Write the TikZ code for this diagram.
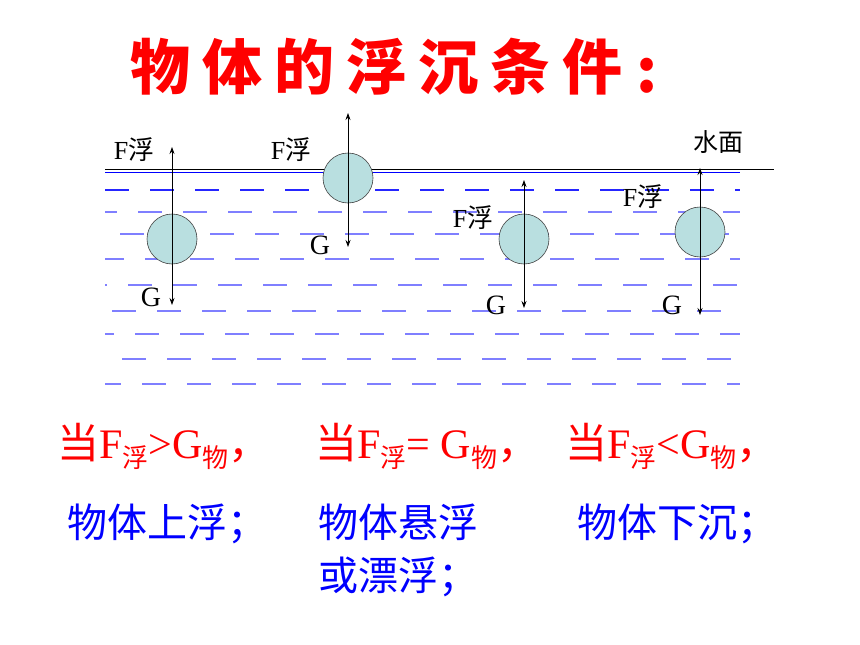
\documentclass[tikz,border=0pt]{standalone}
\usepackage{fontspec}
\setmainfont{Liberation Serif}
\newfontfamily\cjk{Noto Sans CJK SC}
\usetikzlibrary{arrows.meta}
\definecolor{ballcyan}{HTML}{B9DFE0}
\definecolor{wave}{HTML}{7F7FFF}
\definecolor{textblue}{HTML}{0000FF}
\newcommand{\subcjk}[1]{\raisebox{-9pt}{\fontsize{26}{26}\selectfont\cjk #1}}

\begin{document}
\begin{tikzpicture}[x=1pt,y=-1pt,
    ball/.style={circle,draw=black!75,line width=0.6pt,fill=ballcyan,minimum size=50pt,inner sep=0pt},
    force/.style={-{Stealth[length=7pt,width=5pt]},line width=0.8pt},
    lbl/.style={inner sep=0pt,font=\fontsize{26}{28}\selectfont},
    cond/.style={anchor=base west,inner sep=0pt,text=red,font=\fontsize{42}{44}\selectfont},
    result/.style={anchor=base west,inner sep=0pt,text=textblue,font=\fontsize{40}{44}\selectfont\cjk}]
    \useasboundingbox (0,0) rectangle (860,645);

    % title
    \foreach \ch [count=\i] in {物,体,的,浮,沉,条,件}
        \node[text=red,font=\fontsize{60}{62}\selectfont\cjk\bfseries] (title\i) at (160+72*\i-72,67) {\ch};
    \node[text=red,font=\fontsize{60}{62}\selectfont\cjk\bfseries] (colon) at (647,76) {:};

    % water
    \foreach \y/\col/\ph in {190/blue!85/0, 212/wave/12, 234/wave/30, 259/wave/5, 285/wave/22,
        311/wave/38, 334/wave/15, 359/wave/28, 384/wave/8}
        \draw[draw=\col,line width=1.6pt,dash pattern=on 24pt off 21pt,dash phase=\ph] (105,\y) -- (740,\y);
    \draw[line width=0.7pt] (105,169.5) -- (774,169.5);
    \draw[blue,line width=1.8pt] (105,172.5) -- (740,172.5);
    \node[lbl,font=\fontsize{25}{27}\selectfont\cjk] (surface) at (718,142) {水面};

    % balls
    \node[ball] (rising) at (172,239) {};
    \node[ball] (floating) at (348,178) {};
    \node[ball] (suspended) at (524,239) {};
    \node[ball] (sinking) at (700,232) {};

    \coordinate (risingF) at (172,147);
    \coordinate (risingG) at (172,305);
    \coordinate (floatingF) at (348,113);
    \coordinate (floatingG) at (348,247);
    \coordinate (suspendedF) at (524,180);
    \coordinate (suspendedG) at (524,308);
    \coordinate (sinkingF) at (700,168);
    \coordinate (sinkingG) at (700,315);

    \foreach \b in {rising,floating,suspended,sinking} {
        \draw[force] (\b.center) -- (\b F);
        \draw[force] (\b.center) -- (\b G);
    }

    \node[lbl] (risingFlbl) at (134,150) {F{\cjk 浮}};
    \node[lbl,font=\fontsize{28}{30}\selectfont] (risingGlbl) at (151,297) {G};
    \node[lbl] (floatingFlbl) at (291,150) {F{\cjk 浮}};
    \node[lbl,font=\fontsize{28}{30}\selectfont] (floatingGlbl) at (320,245) {G};
    \node[lbl] (suspendedFlbl) at (473,218) {F{\cjk 浮}};
    \node[lbl,font=\fontsize{28}{30}\selectfont] (suspendedGlbl) at (496,305) {G};
    \node[lbl] (sinkingFlbl) at (643,197) {F{\cjk 浮}};
    \node[lbl,font=\fontsize{28}{30}\selectfont] (sinkingGlbl) at (672,305) {G};

    % conditions
    \node[cond] (cond1) at (57,458) {{\cjk 当}F\subcjk{浮}>G\subcjk{物}{\cjk ，}};
    \node[cond] (cond2) at (315,458) {{\cjk 当}F\subcjk{浮}= G\subcjk{物}{\cjk ，}};
    \node[cond] (cond3) at (565,458) {{\cjk 当}F\subcjk{浮}<G\subcjk{物}{\cjk ，}};

    \node[result] (res1) at (67,537) {物体上浮；};
    \node[result] (res2) at (318,537) {物体悬浮};
    \node[result] (res2b) at (318,590) {或漂浮；};
    \node[result] (res3) at (577,537) {物体下沉；};
\end{tikzpicture}
\end{document}
